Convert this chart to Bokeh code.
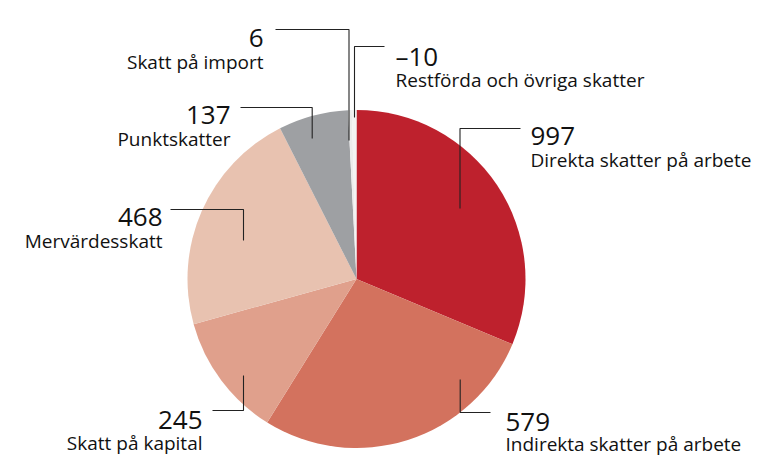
import numpy as np
from bokeh.plotting import figure
from bokeh.models import ColumnDataSource, Range1d
from bokeh.core.properties import value
from bokeh.embed import file_html
from bokeh.resources import INLINE

# ---- data -------------------------------------------------------------
categories = ["Direkta skatter på arbete", "Indirekta skatter på arbete",
              "Skatt på kapital", "Mervärdesskatt", "Punktskatter",
              "Skatt på import", "Restförda och övriga skatter"]
values = [997, 579, 245, 468, 137, 6, -10]
# slice sizes as drawn in the picture (degrees, clockwise from 12 o'clock)
slice_degrees = [112.7, 99.2, 42.6, 78.6, 24.0, 1.3, 1.6]
colors = ["#BE212D", "#D3725E", "#E0A08C", "#E8C2B0", "#9EA0A3",
          "#ECECEC", "#F3F3F3"]

# ---- layout -----------------------------------------------------------
W, H = 755, 456
FONT = "Open Sans"


def Y(py):
    return H - py


p = figure(width=W, height=H, output_backend="svg", toolbar_location=None,
           x_range=Range1d(0, W), y_range=Range1d(0, H), min_border=0)
p.axis.visible = False
p.grid.visible = False
p.outline_line_color = None
p.background_fill_color = "white"
p.border_fill_color = "white"

cx, cy, r = 356, Y(278.5), 169
deg = np.array(slice_degrees, dtype=float)
cum = np.concatenate([[0.0], np.cumsum(deg)])
start = np.deg2rad(90 - cum[1:])
end = np.deg2rad(90 - cum[:-1])
src = ColumnDataSource(dict(cat=categories, val=values, start=start, end=end,
                            color=colors))
p.wedge(x=cx, y=cy, radius=r, start_angle="start", end_angle="end",
        direction="anticlock", fill_color="color", line_color=None, source=src)

# leader lines (picture pixel coordinates)
leaders = [
    [(275, 29), (348.5, 29), (348.5, 140)],        # import
    [(384, 46), (354, 46), (354, 117)],            # restförda
    [(240, 107), (311.7, 107), (311.7, 138)],      # punktskatter
    [(520, 128), (459.5, 128), (459.5, 208)],      # direkta
    [(170, 209), (243, 209), (243, 240)],          # moms
    [(212, 410), (243, 410), (243, 375)],          # kapital
    [(490, 412), (459.7, 412), (459.7, 379)],      # indirekta
]
p.multi_line(xs=[[pt[0] for pt in L] for L in leaders],
             ys=[[Y(pt[1]) for pt in L] for L in leaders],
             line_color="#222222", line_width=1.1)


def fmt(v):
    return ("–" + str(abs(v))) if v < 0 else str(v)


# label anchors: (index, x, number baseline, label baseline, align)
anchors = [
    (5, 263, 37.5, 61.0, "right"),
    (4, 230, 114.5, 138.0, "right"),
    (3, 162, 216.5, 240.0, "right"),
    (2, 202, 419.0, 442.0, "right"),
    (6, 395, 55.5, 79.0, "left"),
    (0, 530, 135.5, 159.0, "left"),
    (1, 505, 421.0, 443.0, "left"),
]
for align in ("left", "right"):
    sel = [a for a in anchors if a[4] == align]
    nsrc = ColumnDataSource(dict(x=[a[1] for a in sel], y=[Y(a[2]) for a in sel],
                                 t=[fmt(values[a[0]]) for a in sel]))
    lsrc = ColumnDataSource(dict(x=[a[1] for a in sel], y=[Y(a[3]) for a in sel],
                                 t=[categories[a[0]] for a in sel]))
    p.text(x="x", y="y", text="t", source=nsrc, text_font=value(FONT),
           text_font_size="26px", text_align=align, text_baseline="alphabetic",
           text_color="#111111")
    p.text(x="x", y="y", text="t", source=lsrc, text_font=value(FONT),
           text_font_size="19px", text_align=align, text_baseline="alphabetic",
           text_color="#111111")

open("out.html", "w").write(file_html(p, INLINE))
